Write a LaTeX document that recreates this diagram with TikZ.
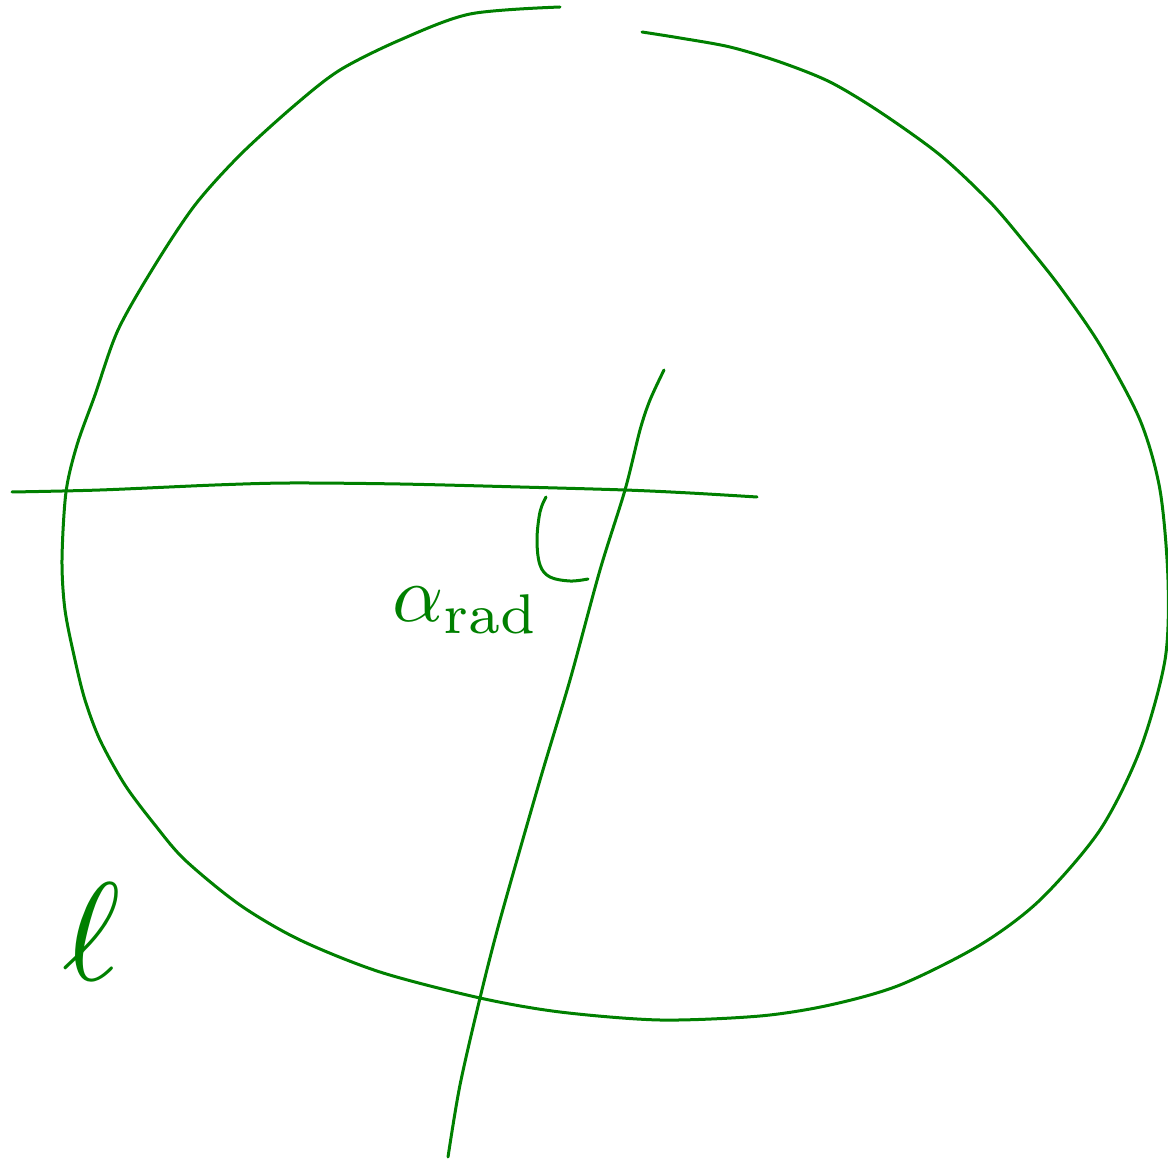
\documentclass[tikz,border=0pt]{standalone}
\usepackage{amsmath}
\definecolor{inkgreen}{RGB}{0,128,0}
\tikzset{
  ink/.style={draw=inkgreen, line width=1.5pt, line cap=round, line join=round},
  lbl/.style={text=inkgreen, inner sep=0pt, anchor=base west}
}
\begin{document}
\begin{tikzpicture}[x=0.5pt,y=-0.5pt]
\useasboundingbox (0,0) rectangle (1168,1160);
% circle (open at top)
\draw[ink] plot[smooth, tension=0.5] coordinates {
(560,7) (470,14) (400,40) (340,70) (295,105) (240,155) (195,205) (155,265)
(118,330) (95,395) (77,445) (66,492) (62,560) (65,610) (75,660) (85,700)
(100,740) (125,785) (155,825) (185,860) (240,905) (300,940) (380,972)
(480,998) (560,1012) (660,1020) (760,1016) (830,1005) (900,985) (980,945)
(1040,900) (1100,830) (1140,750) (1165,660) (1168,580) (1160,490) (1140,420)
(1100,345) (1060,287) (1025,243) (990,202) (940,155) (880,112) (830,82)
(780,62) (730,47) (680,38) (642,32)};
% horizontal line
\draw[ink] plot[smooth, tension=0.5] coordinates {
(12,492) (100,490) (215,485) (290,483) (400,484) (520,487) (625,490) (690,493) (757,497)};
% slanted line
\draw[ink] plot[smooth, tension=0.5] coordinates {
(664,370) (650,400) (640,430) (625,490) (600,570) (570,680) (540,780) (500,920) (480,998) (460,1085) (448,1157)};
% angle mark
\draw[ink] plot[smooth, tension=0.6] coordinates {
(546,497) (540,512) (537,540) (540,565) (550,577) (570,581) (588,579)};
% labels
\node[lbl, scale=4] (alpha) at (391,622) {$\alpha_{\text{rad}}$};
\node[lbl, scale=7] (ell) at (60,980) {$\ell$};
\end{tikzpicture}
\end{document}
